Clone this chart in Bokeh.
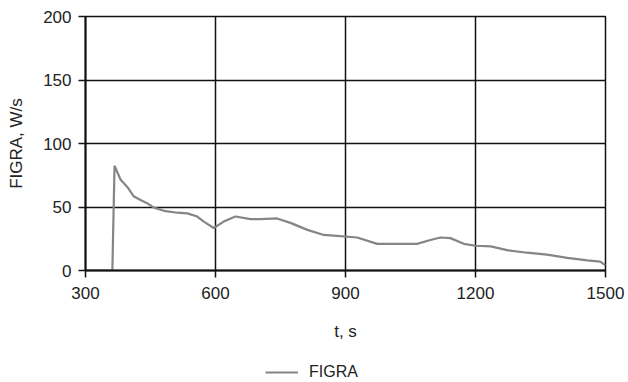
from bokeh.plotting import figure
from bokeh.layouts import column
from bokeh.models import Range1d, FixedTicker, Legend, LegendItem, ColumnDataSource
from bokeh.embed import file_html
from bokeh.resources import INLINE

# Data
time_s = [300, 362, 367, 381, 396, 411, 427, 442, 458, 481, 512, 535, 558, 573,
          596, 619, 646, 681, 704, 742, 773, 812, 850, 888, 927, 973, 1019, 1065,
          1096, 1119, 1142, 1173, 1200, 1235, 1273, 1319, 1365, 1412, 1458, 1488, 1500]
figra = [0, 0, 82.5, 71.5, 66, 58.5, 55.5, 53, 49.5, 47, 45.5, 45, 42.5, 38.5,
         33.5, 38.5, 42.5, 40.5, 40.5, 41, 37.5, 32, 28, 27, 26, 21, 21, 21,
         24, 26, 25.5, 21, 19.5, 19, 16, 14, 12.5, 10, 8, 7, 4]
x_ticks = [300, 600, 900, 1200, 1500]
y_ticks = [0, 50, 100, 150, 200]
series_name = "FIGRA"

FONT = "Liberation Sans"
LINE_COLOR = "#858585"

src = ColumnDataSource(dict(t=time_s, v=figra))

p = figure(width=628, height=350, output_backend="svg", toolbar_location=None,
           x_range=Range1d(300, 1500), y_range=Range1d(0, 200),
           min_border_left=85, min_border_right=23, min_border_top=16,
           min_border_bottom=80)

p.background_fill_color = "white"
p.border_fill_color = "white"
p.outline_line_color = "#111111"
p.outline_line_width = 1.5

for ax in (p.xaxis[0], p.yaxis[0]):
    ax.major_label_text_font = FONT
    ax.major_label_text_font_size = "17px"
    ax.major_label_text_color = "#222222"
    ax.axis_label_text_font = FONT
    ax.axis_label_text_font_size = "17px"
    ax.axis_label_text_font_style = "normal"
    ax.axis_label_text_color = "#222222"
    ax.axis_line_color = "#111111"
    ax.axis_line_width = 2
    ax.major_tick_line_color = "#111111"
    ax.major_tick_line_width = 1.5
    ax.major_tick_out = 7
    ax.major_tick_in = 0
    ax.minor_tick_line_color = None

p.xaxis.ticker = FixedTicker(ticks=x_ticks)
p.yaxis.ticker = FixedTicker(ticks=y_ticks)
p.xaxis.axis_label = "t, s"
p.yaxis.axis_label = "FIGRA, W/s"
p.xaxis.major_label_standoff = 9
p.yaxis.major_label_standoff = 7
p.xaxis.axis_label_standoff = 20
p.yaxis.axis_label_standoff = 14

for g in (p.xgrid[0], p.ygrid[0]):
    g.grid_line_color = "#111111"
    g.grid_line_width = 1.5

p.line("t", "v", source=src, line_color=LINE_COLOR, line_width=2.2)

# Legend strip below the chart (its key line is the same series, kept out of view)
lg = figure(width=628, height=32, output_backend="svg", toolbar_location=None,
            x_axis_location=None, y_axis_location=None,
            x_range=Range1d(300, 1500), y_range=Range1d(1000, 2000),
            min_border=0)
lg.outline_line_color = None
lg.xgrid.visible = False
lg.ygrid.visible = False
lg.background_fill_color = "white"
lg.border_fill_color = "white"
key = lg.line("t", "v", source=src, line_color=LINE_COLOR, line_width=2.2)

legend = Legend(items=[LegendItem(label=series_name, renderers=[key])],
                location=(180, 1))
legend.padding = 0
legend.margin = 0
legend.spacing = 0
legend.glyph_width = 33
legend.glyph_height = 16
legend.label_standoff = 11
legend.label_text_font = FONT
legend.label_text_font_size = "16px"
legend.label_text_color = "#222222"
legend.border_line_color = None
legend.background_fill_alpha = 0
lg.add_layout(legend, "center")

layout = column(p, lg, spacing=0)
open("out.html", "w").write(file_html(layout, INLINE))
